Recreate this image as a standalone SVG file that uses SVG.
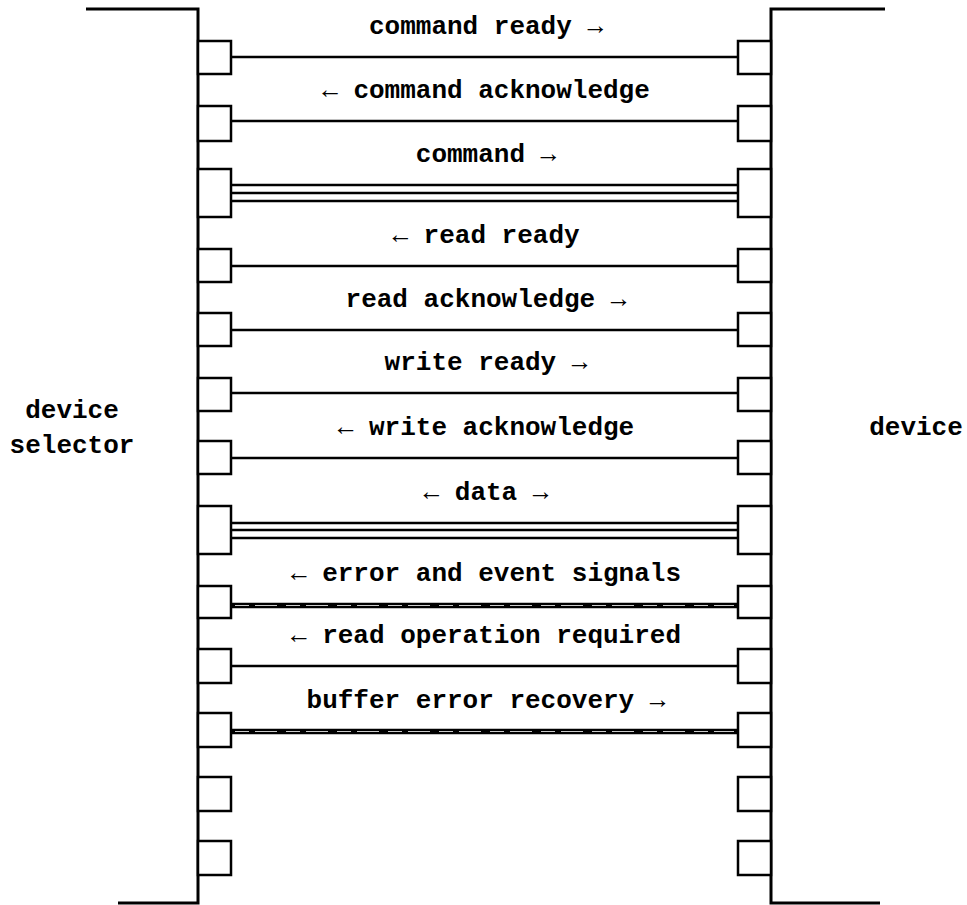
<svg xmlns="http://www.w3.org/2000/svg" width="967" height="905" viewBox="0 0 967 905">
<style>
  .frame { fill: none; stroke: #000; stroke-width: 3; }
  .port { fill: #fff; stroke: #000; stroke-width: 2.5; }
  .wire { stroke: #000; stroke-width: 2.3; fill: none; }
  .bus { stroke: #000; stroke-width: 2.3; fill: none; }
  .thick { stroke: #000; stroke-width: 5.5; fill: none; }
  .gap { stroke: #fff; stroke-width: 0.8; stroke-dasharray: 14 6 22 9; fill: none; }
  text { font-family: "Liberation Mono", "DejaVu Sans Mono", monospace; font-size: 26px; fill: #000; text-anchor: middle; font-weight: bold; }
</style>
<rect width="967" height="905" fill="#fff"/>

<g id="connectors">
  <!-- command ready -->
  <line class="wire" x1="231" y1="57" x2="738" y2="57"/>
  <text x="486" y="34">command ready →</text>
  <!-- command acknowledge -->
  <line class="wire" x1="231" y1="121" x2="738" y2="121"/>
  <text x="486" y="98">← command acknowledge</text>
  <!-- command (bus) -->
  <line class="bus" x1="231" y1="185" x2="738" y2="185"/>
  <line class="bus" x1="231" y1="193" x2="738" y2="193"/>
  <line class="bus" x1="231" y1="201" x2="738" y2="201"/>
  <text x="486" y="162">command →</text>
  <!-- read ready -->
  <line class="wire" x1="231" y1="266" x2="738" y2="266"/>
  <text x="486" y="243">← read ready</text>
  <!-- read acknowledge -->
  <line class="wire" x1="231" y1="330" x2="738" y2="330"/>
  <text x="486" y="307">read acknowledge →</text>
  <!-- write ready -->
  <line class="wire" x1="231" y1="393" x2="738" y2="393"/>
  <text x="486" y="370">write ready →</text>
  <!-- write acknowledge -->
  <line class="wire" x1="231" y1="458" x2="738" y2="458"/>
  <text x="486" y="435">← write acknowledge</text>
  <!-- data (bus) -->
  <line class="bus" x1="231" y1="523" x2="738" y2="523"/>
  <line class="bus" x1="231" y1="530" x2="738" y2="530"/>
  <line class="bus" x1="231" y1="538" x2="738" y2="538"/>
  <text x="486" y="500">← data →</text>
  <!-- error and event signals (double) -->
  <line class="thick" x1="231" y1="605.5" x2="738" y2="605.5"/>
  <line class="gap" x1="235" y1="605.5" x2="734" y2="605.5"/>
  <text x="486" y="581">← error and event signals</text>
  <!-- read operation required -->
  <line class="wire" x1="231" y1="666" x2="738" y2="666"/>
  <text x="486" y="643">← read operation required</text>
  <!-- buffer error recovery (double) -->
  <line class="thick" x1="231" y1="731.5" x2="738" y2="731.5"/>
  <line class="gap" x1="235" y1="731.5" x2="734" y2="731.5"/>
  <text x="486" y="708">buffer error recovery →</text>
</g>

<g id="device-selector">
  <polyline class="frame" points="86,9 198,9 198,903 118,903"/>
  <rect class="port" x="198" y="41" width="33" height="33"/>
  <rect class="port" x="198" y="106" width="33" height="35"/>
  <rect class="port" x="198" y="169" width="33" height="48"/>
  <rect class="port" x="198" y="249" width="33" height="33"/>
  <rect class="port" x="198" y="313" width="33" height="33"/>
  <rect class="port" x="198" y="378" width="33" height="33"/>
  <rect class="port" x="198" y="441" width="33" height="33"/>
  <rect class="port" x="198" y="506" width="33" height="48"/>
  <rect class="port" x="198" y="586" width="33" height="32"/>
  <rect class="port" x="198" y="649" width="33" height="34"/>
  <rect class="port" x="198" y="713" width="33" height="34"/>
  <rect class="port" x="198" y="777" width="33" height="34"/>
  <rect class="port" x="198" y="841" width="33" height="34"/>
  <text x="72" y="418">device</text>
  <text x="72" y="453">selector</text>
</g>

<g id="device">
  <polyline class="frame" points="885,9 771,9 771,903 880,903"/>
  <rect class="port" x="738" y="41" width="33" height="33"/>
  <rect class="port" x="738" y="106" width="33" height="35"/>
  <rect class="port" x="738" y="169" width="33" height="48"/>
  <rect class="port" x="738" y="249" width="33" height="33"/>
  <rect class="port" x="738" y="313" width="33" height="33"/>
  <rect class="port" x="738" y="378" width="33" height="33"/>
  <rect class="port" x="738" y="441" width="33" height="33"/>
  <rect class="port" x="738" y="506" width="33" height="48"/>
  <rect class="port" x="738" y="586" width="33" height="32"/>
  <rect class="port" x="738" y="649" width="33" height="34"/>
  <rect class="port" x="738" y="713" width="33" height="34"/>
  <rect class="port" x="738" y="777" width="33" height="34"/>
  <rect class="port" x="738" y="841" width="33" height="34"/>
  <text x="916" y="435">device</text>
</g>
</svg>
